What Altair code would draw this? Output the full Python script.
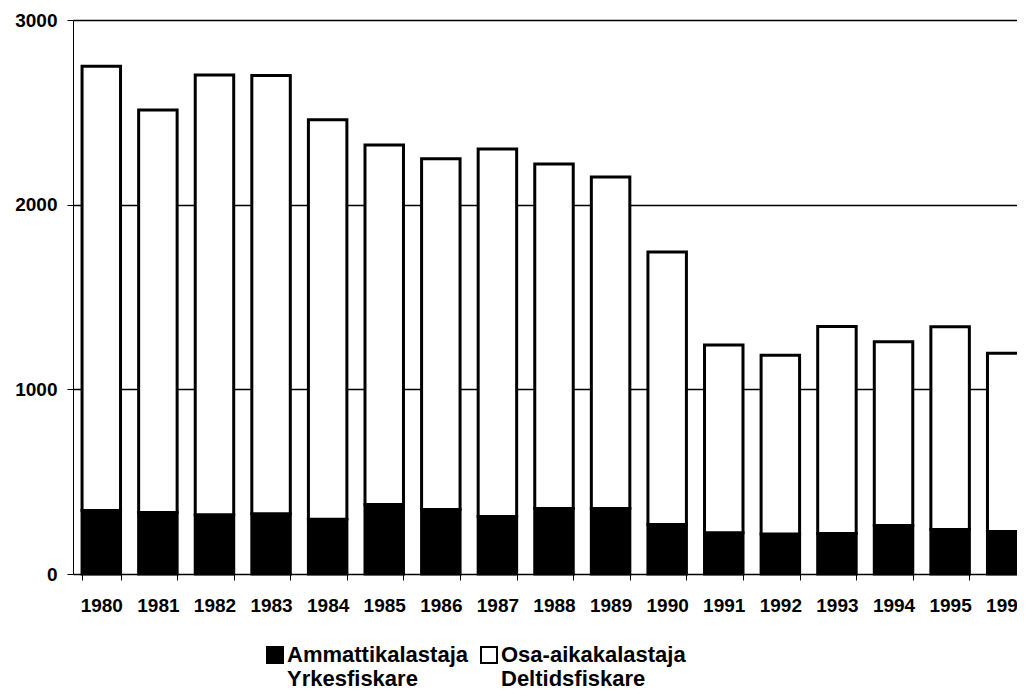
import altair as alt
import pandas as pd

years = ["1980", "1981", "1982", "1983", "1984", "1985", "1986", "1987", "1988",
         "1989", "1990", "1991", "1992", "1993", "1994", "1995", "1996"]
ammattikalastaja = [344, 333, 321, 326, 297, 376, 349, 312, 355, 355, 268, 223, 216, 219, 263, 241, 230]
osa_aikakalastaja = [2406, 2180, 2381, 2374, 2163, 1947, 1899, 1990, 1865, 1795, 1476, 1017, 969, 1121, 995, 1098, 965]
series_names = ["Ammattikalastaja|Yrkesfiskare", "Osa-aikakalastaja|Deltidsfiskare"]
y_ticks = [0, 1000, 2000, 3000]

rows = []
for i, yr in enumerate(years):
    rows.append({"year": yr, "group": series_names[0], "value": ammattikalastaja[i], "ord": 0})
    rows.append({"year": yr, "group": series_names[1], "value": osa_aikakalastaja[i], "ord": 1})
df = pd.DataFrame(rows)

FONT = "Liberation Sans"

chart = alt.Chart(df).mark_bar(stroke="black", strokeWidth=3).encode(
    x=alt.X("year:N", sort=years,
            scale=alt.Scale(range=[0, 962], paddingInner=0.32, paddingOuter=0.16),
            axis=alt.Axis(title=None, labelAngle=0, tickBand="extent", tickSize=6,
                          labelPadding=16, labelFontSize=19, labelFont=FONT,
                          labelFontWeight="bold",
                          labelColor="black", domainColor="black", tickColor="black",
                          domainWidth=1, tickWidth=1, grid=False, labelOverlap=False)),
    y=alt.Y("value:Q", stack="zero",
            scale=alt.Scale(domain=[0, 3000], nice=False),
            axis=alt.Axis(title=None, values=y_ticks, format="d", tickSize=6, labelPadding=10,
                          labelFontSize=19, labelFont=FONT, labelFontWeight="bold",
                          labelColor="black",
                          domainColor="black", tickColor="black", domainWidth=1,
                          grid=True, gridColor="black", gridWidth=1.5, gridOpacity=1)),
    color=alt.Color("group:N",
                    scale=alt.Scale(domain=series_names, range=["black", "white"]),
                    legend=alt.Legend(title=None, orient="none", legendX=191, legendY=624,
                                      direction="horizontal", symbolType="square",
                                      symbolSize=256, symbolStrokeColor="black",
                                      symbolStrokeWidth=2, labelFontSize=22, labelFont=FONT,
                                      labelFontWeight="bold",
                                      labelColor="black", labelLimit=0, labelOffset=1,
                                      columnPadding=9, padding=0,
                                      labelExpr="split(datum.label, '|')")),
    order=alt.Order("ord:Q"),
).properties(
    width=944, height=554,
    autosize=alt.AutoSizeParams(type="none"),
    padding={"left": 65, "top": 12, "right": 0, "bottom": 120},
    background="white",
).configure_view(strokeWidth=0)

chart.save("out.html", embed_options={"renderer": "svg", "actions": False})
